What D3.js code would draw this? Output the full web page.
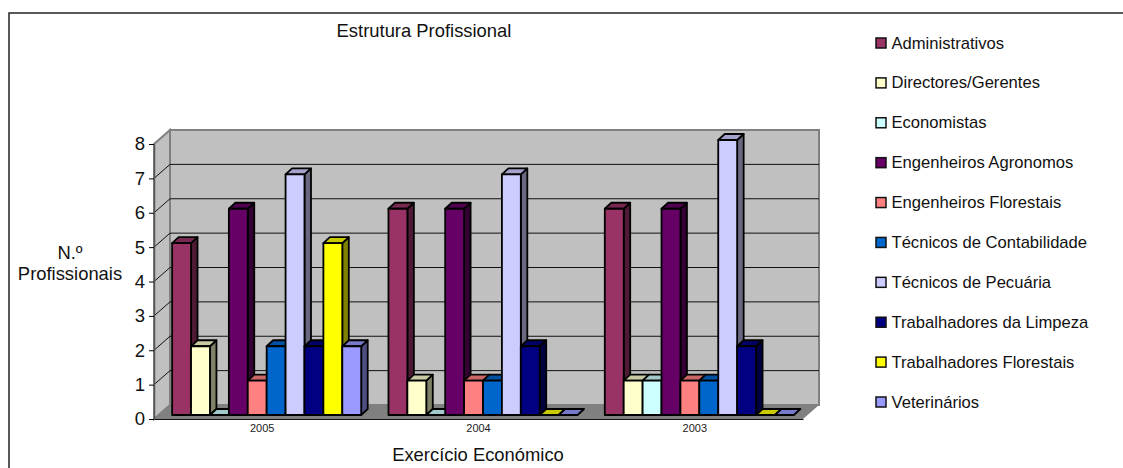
<!DOCTYPE html>
<html>
<head>
<meta charset="utf-8">
<title>Estrutura Profissional</title>
<script src="https://cdn.jsdelivr.net/npm/d3@7"></script>
<style>
  html, body { margin: 0; padding: 0; background: #fff; overflow: hidden; }
  svg { display: block; font-family: "Liberation Sans", Arial, sans-serif; }
</style>
</head>
<body>
<div id="canvas"></div>
<script>
"use strict"

// DATA
let years = ["2005", "2004", "2003"];
let yTicks = [0, 1, 2, 3, 4, 5, 6, 7, 8];
let professions = ["Administrativos", "Directores/Gerentes", "Economistas", "Engenheiros Agronomos",
  "Engenheiros Florestais", "Técnicos de Contabilidade", "Técnicos de Pecuária",
  "Trabalhadores da Limpeza", "Trabalhadores Florestais", "Veterinários"];
let colors = ["#993366", "#ffffcc", "#ccffff", "#660066", "#ff8080",
  "#0066cc", "#ccccff", "#000080", "#ffff00", "#9999ff"];

let administrativos = [5, 6, 6];
let directores = [2, 1, 1];
let economistas = [0, 0, 1];
let agronomos = [6, 6, 6];
let florestais = [1, 1, 1];
let contabilidade = [2, 1, 1];
let pecuaria = [7, 7, 8];
let limpeza = [2, 2, 2];
let trabFlorestais = [5, 0, 0];
let veterinarios = [2, 0, 0];

let seriesValues = [administrativos, directores, economistas, agronomos, florestais,
  contabilidade, pecuaria, limpeza, trabFlorestais, veterinarios];

// Drawing config
let svgWidth = 1123;
let svgHeight = 468;

let plotLeft = 154;
let plotRight = 803;
let plotTop = 144;
let plotBottom = 419;

let depthX = 16; // how far the back wall is pushed from the front axes
let depthY = 14;
let barDepthX = 6.5;
let barDepthY = 6;
let barShiftX = 4.5; // bars stand in the middle of the floor
let barShiftY = 4;

let svg = d3.select("#canvas")
  .append("svg")
  .attr("width", svgWidth)
  .attr("height", svgHeight);

svg.append("rect")
  .attr("width", svgWidth)
  .attr("height", svgHeight)
  .attr("fill", "white");

// outer frame, only top and left survive in the picture
svg.append("path")
  .attr("d", d3.line()([[9, svgHeight], [9, 13], [svgWidth, 13]]))
  .attr("fill", "none")
  .attr("stroke", "#222")
  .attr("stroke-width", 1.5);

// SCALES
let xScale = d3.scaleBand()
  .domain(years)
  .range([plotLeft, plotRight])
  .paddingInner(0.126)
  .paddingOuter(0.063);

let barScale = d3.scaleBand()
  .domain(professions)
  .range([0, xScale.bandwidth()]);

let yScale = d3.scaleLinear()
  .domain([0, 8])
  .range([plotBottom, plotTop]);

// WALLS AND FLOOR
svg.append("polygon")
  .attr("points", [[plotLeft + depthX, plotTop - depthY], [plotRight + depthX, plotTop - depthY],
    [plotRight + depthX, plotBottom - depthY], [plotLeft + depthX, plotBottom - depthY]].join(" "))
  .attr("fill", "#c0c0c0")
  .attr("stroke", "#808080")
  .attr("stroke-width", 2);

svg.append("polygon")
  .attr("points", [[plotLeft, plotTop], [plotLeft + depthX, plotTop - depthY],
    [plotLeft + depthX, plotBottom - depthY], [plotLeft, plotBottom]].join(" "))
  .attr("fill", "#c0c0c0")
  .attr("stroke", "#808080")
  .attr("stroke-width", 2);

svg.append("polygon")
  .attr("points", [[plotLeft, plotBottom], [plotLeft + depthX, plotBottom - depthY],
    [plotRight + depthX, plotBottom - depthY], [plotRight, plotBottom]].join(" "))
  .attr("fill", "#808080");

// GRIDLINES, back wall and the diagonal on the side wall
let gridTicks = yTicks.filter(function (value) { return value > 0 && value < 8; });

svg.selectAll(".grid")
  .data(gridTicks)
  .join("path")
  .attr("class", "grid")
  .attr("d", function (value) {
    let y = yScale(value);
    return d3.line()([[plotLeft, y], [plotLeft + depthX, y - depthY], [plotRight + depthX, y - depthY]]);
  })
  .attr("fill", "none")
  .attr("stroke", "#111")
  .attr("stroke-width", 1);

// AXES
let yAxis = svg.append("g")
  .attr("transform", "translate(" + plotLeft + ",0)")
  .call(d3.axisLeft(yScale).tickValues(yTicks).tickSize(5).tickSizeOuter(0).tickPadding(4));

yAxis.select(".domain").attr("stroke", "#555").attr("stroke-width", 1.5);
yAxis.selectAll("text")
  .attr("fill", "#111")
  .style("font-size", "18.5px")
  .style("font-family", "'Liberation Sans', Arial, sans-serif");

let xAxis = svg.append("g")
  .attr("transform", "translate(0," + plotBottom + ")")
  .call(d3.axisBottom(xScale).tickSize(0).tickPadding(5));

xAxis.select(".domain").attr("stroke", "#111").attr("stroke-width", 1);
xAxis.selectAll("text")
  .attr("fill", "#222")
  .style("font-size", "11px")
  .style("font-family", "'Liberation Sans', Arial, sans-serif");

// BARS
let bars = [];
for (let i = 0; i < years.length; i++) {
  for (let j = 0; j < professions.length; j++) {
    bars.push({ year: years[i], name: professions[j], color: colors[j], value: seriesValues[j][i] });
  }
}

function barBox(d) {
  let x0 = xScale(d.year) + barScale(d.name) + barShiftX;
  let x1 = x0 + barScale.bandwidth();
  let y0 = yScale(0) - barShiftY;
  let y1 = yScale(d.value) - barShiftY;
  return { x0: x0, x1: x1, y0: y0, y1: y1 };
}

let barGroups = svg.selectAll(".bar")
  .data(bars)
  .join("g")
  .attr("class", "bar")
  .attr("stroke", "black")
  .attr("stroke-width", 1.8)
  .attr("stroke-linejoin", "round");

// zero bars only show the flat lid on the floor
barGroups.filter(function (d) { return d.value > 0; })
  .append("polygon")
  .attr("points", function (d) {
    let b = barBox(d);
    return [[b.x1, b.y1], [b.x1 + barDepthX, b.y1 - barDepthY],
      [b.x1 + barDepthX, b.y0 - barDepthY], [b.x1, b.y0]].join(" ");
  })
  .attr("fill", function (d) { return d3.rgb(d.color).darker(1.9); });

barGroups.append("polygon")
  .attr("points", function (d) {
    let b = barBox(d);
    return [[b.x0, b.y1], [b.x0 + barDepthX, b.y1 - barDepthY],
      [b.x1 + barDepthX, b.y1 - barDepthY], [b.x1, b.y1]].join(" ");
  })
  .attr("fill", function (d) { return d3.rgb(d.color).darker(0.65); });

barGroups.filter(function (d) { return d.value > 0; })
  .append("rect")
  .attr("x", function (d) { return barBox(d).x0; })
  .attr("y", function (d) { return barBox(d).y1; })
  .attr("width", barScale.bandwidth())
  .attr("height", function (d) { let b = barBox(d); return b.y0 - b.y1; })
  .attr("fill", function (d) { return d.color; });

// TITLES
svg.append("text")
  .text("Estrutura Profissional")
  .attr("x", 424)
  .attr("y", 37)
  .attr("text-anchor", "middle")
  .attr("fill", "#111")
  .style("font-size", "18.4px");

svg.append("text")
  .text("Exercício Económico")
  .attr("x", 478)
  .attr("y", 461)
  .attr("text-anchor", "middle")
  .attr("fill", "#111")
  .style("font-size", "18.4px");

svg.append("text")
  .text("N.º")
  .attr("x", 70)
  .attr("y", 259)
  .attr("text-anchor", "middle")
  .attr("fill", "#111")
  .style("font-size", "18.4px");

svg.append("text")
  .text("Profissionais")
  .attr("x", 70)
  .attr("y", 280)
  .attr("text-anchor", "middle")
  .attr("fill", "#111")
  .style("font-size", "18.4px");

// LEGEND
let legendY = d3.scalePoint()
  .domain(professions)
  .range([43, 402]);

let legend = svg.selectAll(".legendItem")
  .data(professions)
  .join("g")
  .attr("class", "legendItem")
  .attr("transform", function (d) { return "translate(876," + legendY(d) + ")"; });

legend.append("rect")
  .attr("x", 0)
  .attr("y", -5)
  .attr("width", 10)
  .attr("height", 10)
  .attr("fill", function (d, i) { return colors[i]; })
  .attr("stroke", "#111")
  .attr("stroke-width", 1.5);

legend.append("text")
  .text(function (d) { return d; })
  .attr("x", 15.5)
  .attr("y", 5.5)
  .attr("fill", "#111")
  .style("font-size", "16.6px");
</script>
</body>
</html>
